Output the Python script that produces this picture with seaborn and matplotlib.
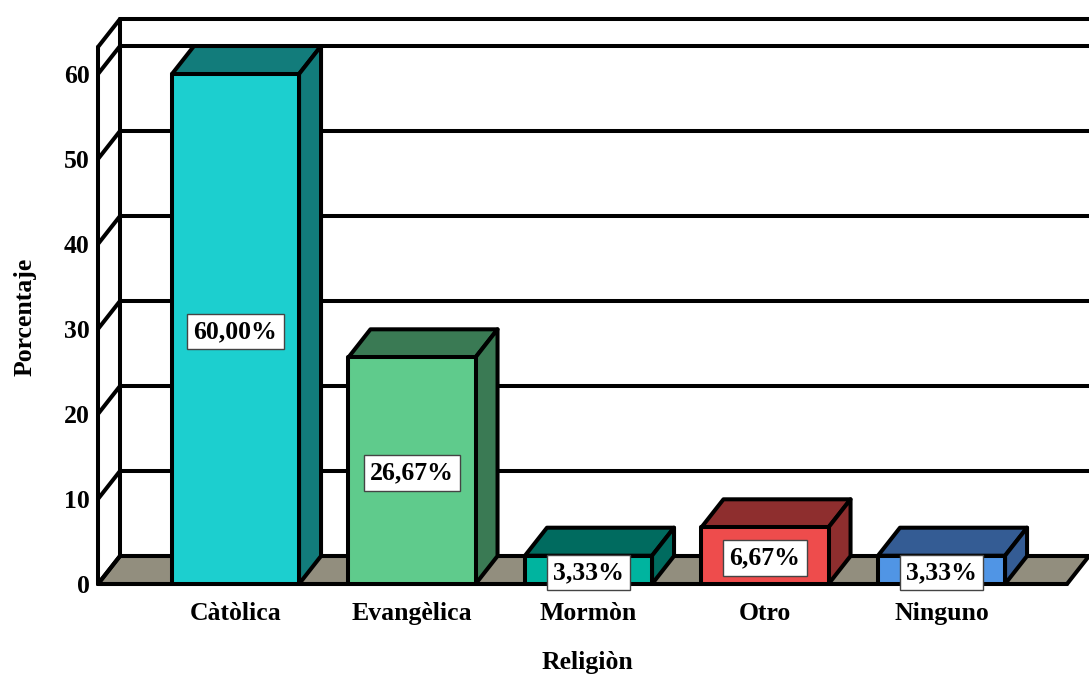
import matplotlib
matplotlib.use('Agg')
import matplotlib.pyplot as plt
from matplotlib.patches import Polygon
import seaborn as sns

categorias = ['Càtòlica', 'Evangèlica', 'Mormòn', 'Otro', 'Ninguno']
porcentajes = [60.00, 26.67, 3.33, 6.67, 3.33]
etiquetas = ['60,00%', '26,67%', '3,33%', '6,67%', '3,33%']
y_ticks = [0, 10, 20, 30, 40, 50, 60]
colores = ['#1CCFCF', '#5FCB8C', '#00B49F', '#EE4C4C', '#5095E5']
colores_osc = ['#127C7B', '#3A7A54', '#006B5F', '#8E2E2E', '#345C94']

sns.set_theme(style='white')
plt.rcParams['font.family'] = ['Liberation Serif', 'DejaVu Serif']
plt.rcParams['font.weight'] = 'bold'
plt.rcParams['text.color'] = 'black'
plt.rcParams['axes.labelcolor'] = 'black'
plt.rcParams['xtick.labelcolor'] = 'black'
plt.rcParams['ytick.labelcolor'] = 'black'

LW = 2.9
FS = 18.5
fig = plt.figure(figsize=(10.89, 6.75), dpi=100)
ax = fig.add_axes([98 / 1089, 91 / 675, 969 / 1089, 537 / 675])

sns.barplot(x=categorias, y=porcentajes, hue=categorias, palette=colores,
            saturation=1, width=0.72, edgecolor='black', linewidth=LW, legend=False,
            zorder=5, ax=ax)

x0, x1 = -0.779, 4.711
y_max = 63.18
ax.set_xlim(x0, x1)
ax.set_ylim(0, y_max)
# profundidad del efecto 3D
dx = 22 / 176.5
dy = 28 / 8.5

# piso
ax.add_patch(Polygon([(x0, 0), (x1, 0), (x1 + dx, dy), (x0 + dx, dy)], closed=True,
                     facecolor='#928E7E', edgecolor='black', linewidth=LW,
                     clip_on=False, zorder=1, joinstyle='round'))

# lineas de la pared del fondo y la pared izquierda
for t in y_ticks + [y_max]:
    ax.plot([x0 + dx, x1 + 2 * dx], [t + dy, t + dy], color='black', lw=LW,
            clip_on=False, zorder=2)
    ax.plot([x0, x0 + dx], [t, t + dy], color='black', lw=LW, clip_on=False, zorder=2)
ax.plot([x0, x0], [0, y_max], color='black', lw=LW, clip_on=False, zorder=2)
ax.plot([x0 + dx, x0 + dx], [dy, y_max + dy], color='black', lw=LW, clip_on=False, zorder=2)
ax.plot([x0, x1], [0, 0], color='black', lw=LW, clip_on=False, zorder=3)

# caras superior y lateral de cada barra, sacadas de las barras de seaborn
for bar, osc, etq in zip(ax.patches[:len(categorias)], colores_osc, etiquetas):
    bar.set_joinstyle('round')
    a = bar.get_x()
    b = a + bar.get_width()
    h = bar.get_height()
    ax.add_patch(Polygon([(a, h), (b, h), (b + dx, h + dy), (a + dx, h + dy)], closed=True,
                         facecolor=osc, edgecolor='black', linewidth=LW,
                         clip_on=False, zorder=4, joinstyle='round'))
    ax.add_patch(Polygon([(b, 0), (b + dx, dy), (b + dx, h + dy), (b, h)], closed=True,
                         facecolor=osc, edgecolor='black', linewidth=LW,
                         clip_on=False, zorder=4, joinstyle='round'))
    ax.text((a + b) / 2, h / 2, etq, ha='center', va='center_baseline', fontsize=FS,
            fontweight='bold', color='black', zorder=6, clip_on=False,
            bbox=dict(boxstyle='square,pad=0.24', facecolor='white',
                      edgecolor='#444444', linewidth=1))

sns.despine(ax=ax, left=True, bottom=True, top=True, right=True)
ax.set_yticks(y_ticks)
ax.set_yticklabels([str(t) for t in y_ticks], fontsize=FS, fontweight='bold')
ax.tick_params(axis='y', length=0, pad=6)
ax.tick_params(axis='x', length=0, pad=13)
ax.set_xticks(range(len(categorias)))
ax.set_xticklabels(categorias, fontsize=FS, fontweight='bold')
ax.set_xlabel('Religiòn', fontsize=FS, fontweight='bold', va='center')
ax.xaxis.set_label_coords((587 - 98) / 969, -78 / 537)
ax.set_ylabel('Porcentaje', fontsize=FS, fontweight='bold', va='center')
ax.yaxis.set_label_coords((25 - 98) / 969, (584 - 317) / 537)

fig.savefig('out.png', dpi=100)
